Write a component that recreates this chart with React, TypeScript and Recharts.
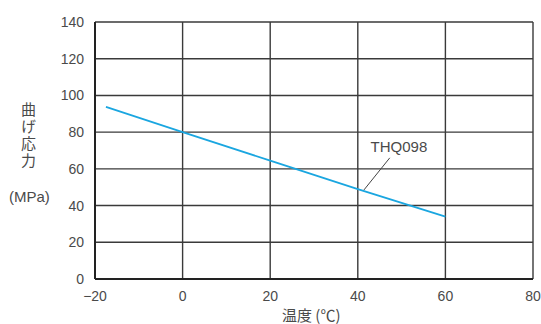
import React from 'react';
import {
  LineChart, Line, XAxis, YAxis, CartesianGrid, ReferenceLine, ReferenceDot,
} from 'recharts';

// temperature (°C) vs bending stress (MPa)
const temps = [-17.5, 0, 20, 40, 60];
const stress = [93.8, 80, 64.5, 49, 34];
const xTicks = [-20, 0, 20, 40, 60, 80];
const yTicks = [0, 20, 40, 60, 80, 100, 120, 140];
const seriesName = 'THQ098';

const data = temps.map((t, i) => ({ t, v: stress[i] }));

const font = '"Liberation Sans", Arial, sans-serif';
const cjk = '"Noto Sans CJK JP", sans-serif';
const textColor = '#4a4a4a';
const gridColor = '#3a3a3a';

const fmtX = (v: number) => (v < 0 ? '\u2212' + Math.abs(v) : String(v));

const SeriesLabel = (props: any) => {
  const { viewBox } = props;
  return (
    <text x={viewBox.x} y={viewBox.y} textAnchor="middle" dominantBaseline="central"
      fontSize={15} fill={textColor} fontFamily={font}>
      {seriesName}
    </text>
  );
};

export default function App() {
  return (
    <div style={{ position: 'absolute', left: 0, top: 0, width: 541, height: 324, background: '#fff', overflow: 'hidden', fontFamily: font }}>
      <LineChart width={541} height={324} data={data} margin={{ top: 22, right: 8, bottom: 0, left: 0 }}>
        <CartesianGrid stroke={gridColor} strokeWidth={1.4} />
        <XAxis dataKey="t" type="number" domain={[-20, 80]} ticks={xTicks} tickFormatter={fmtX}
          height={45} tickLine={false} tickMargin={6} axisLine={{ stroke: '#222', strokeWidth: 2 }}
          tick={{ fill: textColor, fontSize: 14, fontFamily: font }} />
        <YAxis type="number" domain={[0, 140]} ticks={yTicks} width={95}
          tickLine={false} tickMargin={5} axisLine={{ stroke: '#222', strokeWidth: 2 }}
          tick={{ fill: textColor, fontSize: 14, fontFamily: font }} />
        <Line dataKey="v" stroke="#1aa6e0" strokeWidth={1.8} dot={false} isAnimationActive={false} />
        <ReferenceLine segment={[{ x: 47.3, y: 66 }, { x: 41.4, y: 48.5 }]} stroke="#444" strokeWidth={1} />
        <ReferenceDot x={49.4} y={72} r={0} fill="none" stroke="none" label={<SeriesLabel />} />
      </LineChart>
      {/* y axis title, written vertically */}
      <div style={{
        position: 'absolute', left: 18, top: 102, fontSize: 15, lineHeight: '20px', letterSpacing: '2px',
        color: textColor, fontFamily: cjk, writingMode: 'vertical-rl', textOrientation: 'upright',
      }}>
        曲げ応力
      </div>
      <div style={{ position: 'absolute', left: 9, top: 188, fontSize: 15, color: textColor }}>(MPa)</div>
      <div style={{ position: 'absolute', left: 282, top: 307, fontSize: 15, lineHeight: '16px', color: textColor, fontFamily: cjk, whiteSpace: 'nowrap' }}>
        温度 (℃)
      </div>
    </div>
  );
}
